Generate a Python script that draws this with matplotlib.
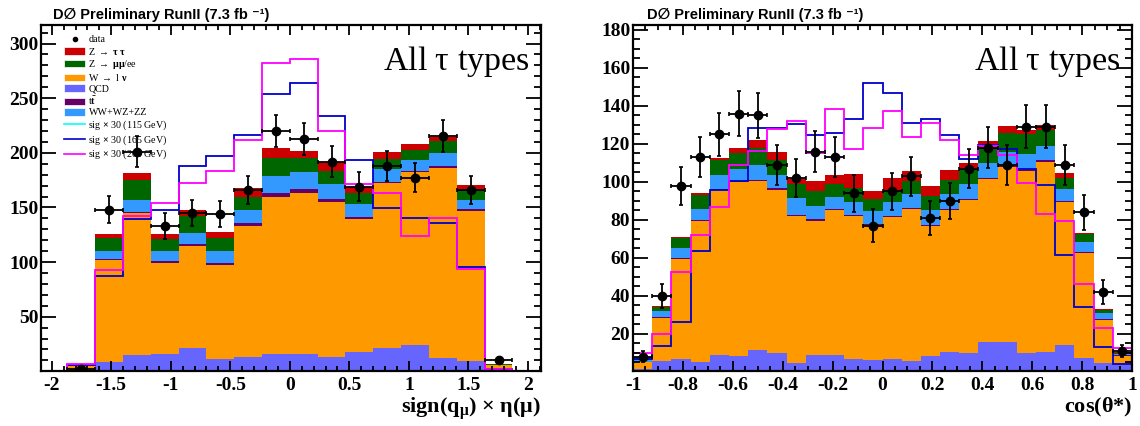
import numpy as np
import matplotlib
matplotlib.use("Agg")
import matplotlib.pyplot as plt
from matplotlib.patches import Patch
from matplotlib.lines import Line2D
from matplotlib.ticker import MultipleLocator, FuncFormatter

plt.rcParams['mathtext.fontset'] = 'custom'
plt.rcParams['mathtext.rm'] = 'Liberation Serif:bold'
plt.rcParams['mathtext.it'] = 'Liberation Serif:bold'
plt.rcParams['mathtext.bf'] = 'Liberation Serif:bold'

# ---------------- data : left panel, sign(q_mu) x eta(mu) ----------------
eta_edges = np.linspace(-1.87, 1.87, 17)
eta_qcd = [1.5, 8.6, 14.7, 15.6, 21.4, 11.0, 13.2, 16.2, 16.2, 13.2, 17.8, 21.7, 23.9, 12.6, 9.2, 2.5]
eta_wlnu = [3.0, 93.3, 130.0, 83.8, 93.6, 86.3, 119.9, 143.8, 147.4, 142.2, 121.7, 150.5, 158.1, 173.4, 137.9, 3.0]
eta_ttbar = [0.1, 0.9, 1.2, 1.6, 1.5, 1.5, 2.4, 3.0, 3.1, 2.1, 1.5, 1.5, 1.5, 1.5, 1.3, 0.1]
eta_diboson = [0.5, 7.3, 11.1, 9.4, 10.4, 11.3, 12.2, 15.9, 15.3, 14.1, 12.2, 11.3, 9.5, 12.2, 8.6, 0.5]
eta_zmumu = [0.5, 11.6, 18.3, 10.7, 15.6, 12.3, 12.3, 16.8, 13.1, 11.9, 10.4, 9.5, 9.8, 10.7, 8.5, 0.5]
eta_ztautau = [0.3, 3.7, 6.1, 4.6, 5.2, 5.5, 7.6, 8.6, 6.8, 7.7, 5.5, 5.8, 5.2, 4.0, 5.2, 0.3]
eta_data = [2, 148, 201, 133, 145, 144, 166, 220, 213, 192, 169, 188, 177, 215, 166, 10]
eta_sig165 = [5.5, 87.2, 139.5, 147.7, 187.5, 196.7, 215.9, 254.2, 264.0, 233.4, 193.6, 149.9, 140.1, 135.5, 95.8, 2.5]
eta_sig200 = [7.0, 92.7, 142.5, 154.5, 172.8, 183.5, 212.0, 282.3, 286.3, 219.6, 171.3, 163.6, 123.9, 140.7, 93.3, 2.5]

# ---------------- data : right panel, cos(theta*) ----------------
cos_edges = np.linspace(-1.0, 1.0, 27)
cos_qcd = [1.5, 5.8, 7.0, 5.3, 9.0, 8.5, 11.6, 9.9, 4.9, 9.0, 9.0, 6.7, 6.3, 6.7, 5.8, 8.5, 10.6, 9.9, 15.8, 15.5, 9.9, 10.6, 14.1, 7.2, 4.6, 3.5]
cos_wlnu = [3.5, 22.5, 52.5, 73.9, 86.6, 91.5, 88.7, 86.1, 77.1, 70.7, 76.0, 75.3, 71.1, 74.8, 80.1, 68.2, 74.4, 80.7, 85.9, 92.4, 95.9, 99.9, 75.3, 55.5, 22.7, 5.0]
cos_ttbar = [0.2, 0.6, 0.6, 0.6, 0.6, 0.6, 0.6, 0.6, 0.6, 0.6, 0.6, 0.6, 0.6, 0.6, 0.6, 0.6, 0.6, 0.6, 0.6, 0.6, 0.6, 0.8, 0.6, 0.5, 0.5, 0.3]
cos_diboson = [1.3, 3.3, 5.2, 5.7, 7.3, 6.0, 8.2, 6.9, 9.1, 7.0, 6.4, 6.8, 6.5, 7.3, 7.3, 7.7, 7.9, 7.5, 7.9, 7.3, 8.2, 7.7, 6.1, 5.4, 3.0, 0.9]
cos_zmumu = [0.7, 1.8, 5.1, 7.5, 7.9, 8.4, 8.9, 8.2, 7.4, 7.7, 7.1, 7.4, 6.7, 6.5, 6.7, 7.6, 7.3, 7.4, 7.9, 9.7, 10.4, 8.6, 6.0, 4.1, 1.8, 0.5]
cos_ztautau = [0.8, 0.5, 0.7, 1.3, 1.4, 3.0, 4.0, 4.1, 2.6, 5.3, 4.4, 7.2, 3.8, 6.2, 5.1, 5.1, 5.3, 4.1, 3.3, 3.9, 2.6, 2.3, 2.8, 0.5, 0.5, 0.5]
cos_data = [8, 40, 98, 113, 125, 136, 135, 109, 102, 116, 113, 94, 77, 95, 103, 81, 90, 107, 118, 109, 129, 129, 109, 84, 42, 11]
cos_sig165 = [6.7, 13.7, 26.4, 63.9, 95.6, 100.3, 128.5, 128.5, 130.4, 124.6, 126.0, 132.9, 151.9, 146.6, 130.8, 133.0, 124.6, 111.9, 119.7, 117.6, 107.0, 98.2, 61.6, 34.3, 13.2, 4.0]
cos_sig200 = [10.2, 20.2, 52.4, 72.3, 86.8, 108.8, 116.2, 128.1, 132.2, 115.4, 138.2, 117.2, 128.6, 137.4, 123.4, 130.8, 122.0, 114.4, 119.0, 114.4, 99.4, 82.9, 79.4, 46.3, 23.1, 12.5]

proc_labels = [r"Z $\rightarrow$ $\tau$ $\tau$", r"Z $\rightarrow$ $\mu\mu$/ee", r"W $\rightarrow$ l $\nu$",
               "QCD", r"t$\bar{\mathrm{t}}$", "WW+WZ+ZZ"]
sig_labels = [r"sig $\times$ 30 (115 GeV)", r"sig $\times$ 30 (165 GeV)", r"sig $\times$ 30 (200 GeV)"]
title_text = "D\u2205 Preliminary RunII (7.3 fb \u207b\u00b9)"

C_ZTT = '#cc0000'
C_ZMM = '#006600'
C_W = '#ff9900'
C_QCD = '#6666ff'
C_TT = '#660066'
C_VV = '#3399ff'
C_S115 = '#00ffff'
C_S165 = '#0000cc'
C_S200 = '#ff00ff'

fig = plt.figure(figsize=(11.4, 4.26), dpi=100)
W, H = 1140, 426
ax1 = fig.add_axes([41 / W, (H - 371) / H, 500 / W, 346 / H])
ax2 = fig.add_axes([633 / W, (H - 371) / H, 499 / W, 346 / H])

serif = 'Liberation Serif'


def draw(ax, edges, qcd, wl, tt, vv, zmm, ztt, data, s165, s200):
    comps = [(qcd, C_QCD), (wl, C_W), (tt, C_TT), (vv, C_VV), (zmm, C_ZMM), (ztt, C_ZTT)]
    bottom = np.zeros(len(edges) - 1)
    for vals, col in comps:
        top = bottom + np.asarray(vals)
        ax.stairs(top, edges, baseline=bottom, fill=True, color=col, lw=0)
        bottom = top
    ax.stairs(s165, edges, color=C_S165, lw=1.3, baseline=0)
    ax.stairs(s200, edges, color=C_S200, lw=1.3, baseline=0)
    centers = 0.5 * (edges[:-1] + edges[1:])
    halfw = 0.5 * (edges[1:] - edges[:-1])
    d = np.asarray(data, dtype=float)
    ax.errorbar(centers, d, xerr=halfw, yerr=np.sqrt(d), fmt='o', color='black',
                ms=6, lw=1.3, capsize=1.5, capthick=1.2, zorder=10)


draw(ax1, eta_edges, eta_qcd, eta_wlnu, eta_ttbar, eta_diboson, eta_zmumu, eta_ztautau,
     eta_data, eta_sig165, eta_sig200)
draw(ax2, cos_edges, cos_qcd, cos_wlnu, cos_ttbar, cos_diboson, cos_zmumu, cos_ztautau,
     cos_data, cos_sig165, cos_sig200)

ax1.set_xlim(-2.09, 2.11)
ax1.set_ylim(0.3, 317)
ax1.xaxis.set_major_locator(MultipleLocator(0.5))
ax1.xaxis.set_minor_locator(MultipleLocator(0.1))
ax1.set_yticks([50, 100, 150, 200, 250, 300])
ax1.yaxis.set_minor_locator(MultipleLocator(10))

ax2.set_xlim(-1, 1)
ax2.set_ylim(0.5, 182.6)
ax2.xaxis.set_major_locator(MultipleLocator(0.2))
ax2.xaxis.set_minor_locator(MultipleLocator(0.05))
ax2.set_yticks([20, 40, 60, 80, 100, 120, 140, 160, 180])
ax2.yaxis.set_minor_locator(MultipleLocator(5))

fmt = FuncFormatter(lambda v, p: '%g' % round(v, 3))

for ax in (ax1, ax2):
    ax.xaxis.set_major_formatter(fmt)
    ax.yaxis.set_major_formatter(fmt)
    for s in ax.spines.values():
        s.set_linewidth(1.6)
    ax.tick_params(axis='both', which='both', direction='in', top=True, right=True, width=1.3)
    ax.tick_params(axis='x', which='major', length=7.5, pad=4)
    ax.tick_params(axis='x', which='minor', length=3.8)
    ax.tick_params(axis='y', which='major', length=10.5, pad=2)
    ax.tick_params(axis='y', which='minor', length=5)
    for lab in ax.get_xticklabels() + ax.get_yticklabels():
        lab.set_fontfamily(serif)
        lab.set_fontweight('bold')
        lab.set_fontsize(14)
    ax.text(0.978, 0.895, r"All $\mathregular{\tau}$ types", transform=ax.transAxes,
            ha='right', va='center', fontsize=24.5, fontfamily=serif)

ax1.text(1.0, -0.072, r"sign(q$_{\mathrm{\mu}}$) $\times$ $\mathrm{\eta(\mu)}$", transform=ax1.transAxes,
         ha='right', va='top', fontsize=16, fontfamily=serif, fontweight='bold')
ax2.text(1.0, -0.072, r"cos($\mathrm{\theta}$*)", transform=ax2.transAxes,
         ha='right', va='top', fontsize=16, fontfamily=serif, fontweight='bold')

for xpix in (53, 647):
    fig.text(xpix / W, 1 - 15 / H, title_text, fontsize=10.5,
             fontfamily=['Liberation Sans', 'DejaVu Sans'], fontweight='bold', va='center', ha='left')

# legend
handles = [Line2D([], [], marker='o', ms=3, color='black', lw=0)]
for col in (C_ZTT, C_ZMM, C_W, C_QCD, C_TT, C_VV):
    handles.append(Patch(facecolor=col, edgecolor='white', lw=0.5))
for col in (C_S115, C_S165, C_S200):
    handles.append(Line2D([], [], color=col, lw=1.2))
labels = ['data'] + proc_labels + sig_labels
ax1.legend(handles, labels, loc='upper left', bbox_to_anchor=(0.036, 0.985),
           frameon=False, borderpad=0, handlelength=2.1, handleheight=0.8,
           labelspacing=0.12, handletextpad=0.35, prop={'family': serif, 'size': 7.2})

fig.savefig('out.png', dpi=100)
